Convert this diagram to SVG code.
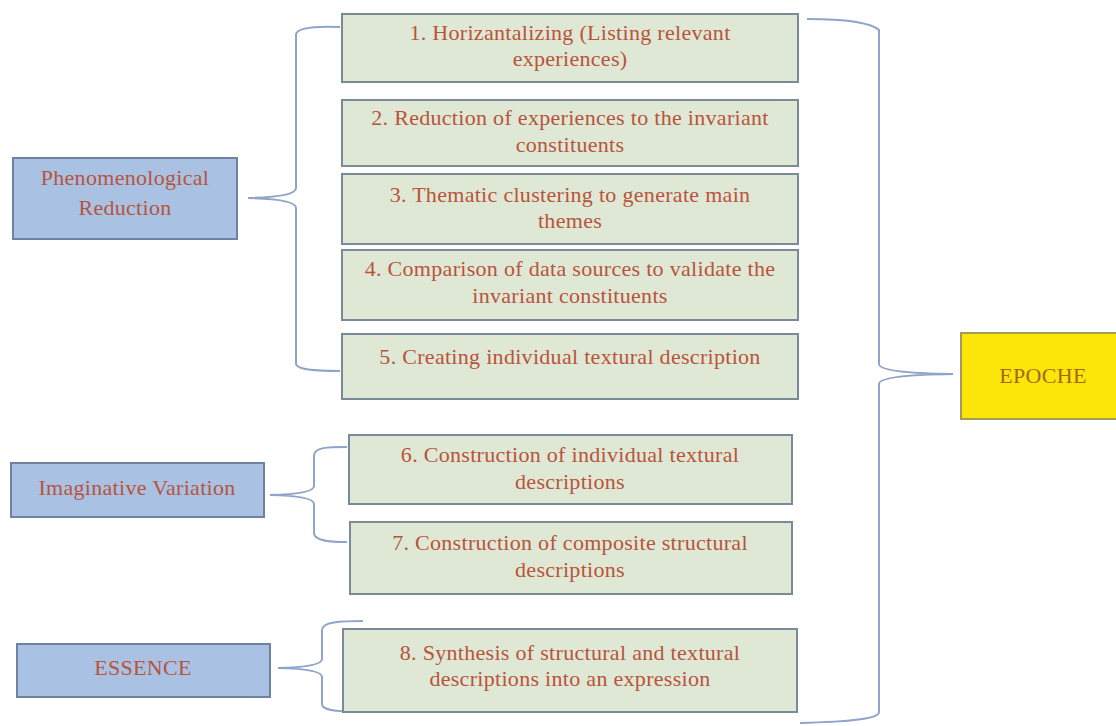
<svg xmlns="http://www.w3.org/2000/svg" width="1116" height="726" viewBox="0 0 1116 726">
<style>
.step{fill:#dfe8d4;stroke:#7b8a99;stroke-width:2}
.phase{fill:#a9c1e3;stroke:#6f82a0;stroke-width:2}
.epoche{fill:#fbe60a;stroke:#a79a55;stroke-width:2}
text{font-family:"Liberation Serif","Times New Roman",serif;font-size:22px;fill:#b8543c;text-anchor:middle;letter-spacing:0.3px}
.et{fill:#a5661c}
.brace{fill:none;stroke:#8fa3cb;stroke-width:2}
</style>
<rect width="1116" height="726" fill="#ffffff"/>
<g id="connectors">
<path class="brace" d="M340 27 C318 26 298 27 296 34 L296 188 Q296 197 248 198 Q296 199 296 208 L296 364 C297 370 318 371 340 371"/>
<path class="brace" d="M347 447 C328 447 314 447 314 456 L314 486 Q314 494 270 495 Q314 496 314 504 L314 533 C314 541 330 542 347 542"/>
<path class="brace" d="M363 621 C340 621 322 622 322 630 L322 659 Q322 667 278 668 Q322 669 322 677 L322 704 C322 711 340 712 363 712"/>
<path class="brace" d="M807 19 C840 19 870 22 879 30 L879 364 Q879 373 953 374 Q879 375 879 384 L879 712 C879 720 840 722 800 723"/>
</g>
<g id="step1"><rect class="step" x="342" y="14" width="456" height="68"/><text x="570" y="40">1. Horizantalizing (Listing relevant</text><text x="570" y="66">experiences)</text></g>
<g id="step2"><rect class="step" x="342" y="100" width="456" height="66"/><text x="570" y="125">2. Reduction of experiences to the invariant</text><text x="570" y="152">constituents</text></g>
<g id="step3"><rect class="step" x="342" y="174" width="456" height="70"/><text x="570" y="202">3. Thematic clustering to generate main</text><text x="570" y="228">themes</text></g>
<g id="step4"><rect class="step" x="342" y="250" width="456" height="70"/><text x="570" y="276">4. Comparison of data sources to validate the</text><text x="570" y="303">invariant constituents</text></g>
<g id="step5"><rect class="step" x="342" y="334" width="456" height="65"/><text x="570" y="364">5. Creating individual textural description</text></g>
<g id="step6"><rect class="step" x="349" y="435" width="443" height="69"/><text x="570" y="462">6. Construction of individual textural</text><text x="570" y="489">descriptions</text></g>
<g id="step7"><rect class="step" x="350" y="522" width="442" height="72"/><text x="570" y="550">7. Construction of composite structural</text><text x="570" y="577">descriptions</text></g>
<g id="step8"><rect class="step" x="343" y="629" width="454" height="83"/><text x="570" y="660">8. Synthesis of structural and textural</text><text x="570" y="686">descriptions into an expression</text></g>
<g id="phenomenological"><rect class="phase" x="13" y="158" width="224" height="81"/><text x="125" y="185">Phenomenological</text><text x="125" y="215">Reduction</text></g>
<g id="imaginative"><rect class="phase" x="11" y="463" width="253" height="54"/><text x="137" y="495">Imaginative Variation</text></g>
<g id="essence"><rect class="phase" x="17" y="644" width="253" height="53"/><text x="143" y="675">ESSENCE</text></g>
<g id="epoche"><rect class="epoche" x="961" y="333" width="165" height="86"/><text class="et" x="1043" y="383">EPOCHE</text></g>
</svg>
